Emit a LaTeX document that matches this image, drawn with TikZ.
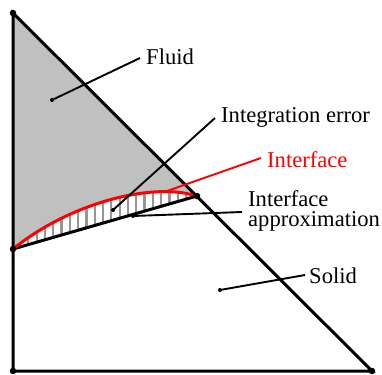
\documentclass[tikz,border=0pt]{standalone}
\usepackage{fontspec}
\setmainfont{Liberation Serif}
\begin{document}
\begin{tikzpicture}[x=1pt,y=-1pt,
  edge/.style={line width=3pt,line cap=round},
  leader/.style={line width=1.9pt},
  lbl/.style={inner sep=0pt,anchor=base west,font=\fontsize{22.6pt}{27pt}\selectfont},
  vdot/.style={circle,fill=black,inner sep=0pt,minimum size=6.5pt},
  ldot/.style={circle,fill=black,inner sep=0pt,minimum size=4pt}]
\useasboundingbox (0,0) rectangle (382,374);
% vertices
\coordinate (A) at (13,13);
\coordinate (B) at (13,371);
\coordinate (C) at (372,371);
\coordinate (P) at (13,249);
\coordinate (Q) at (197,196);
\coordinate (R) at (193,195);
% fluid region
\fill[fill={rgb,255:red,192;green,192;blue,192}] (A) -- (Q) -- (R) .. controls (150,183) and (70,203) .. (P) -- cycle;
% hatching of integration error
\begin{scope}
  \clip (P) .. controls (70,203) and (150,183) .. (R) -- (Q) -- cycle;
  \foreach \xx in {20,28.3,...,200} {
    \draw[line width=2.2pt,color={rgb,255:red,150;green,150;blue,150}] (\xx,180) -- (\xx,260);
  }
\end{scope}
% triangle
\draw[edge] (A) -- (B) -- (C) -- cycle;
% approximation
\draw[edge] (P) -- (Q);
% interface
\draw[line width=3pt,red] (P) .. controls (70,203) and (150,183) .. (R);
% dots
\node[vdot] (dA) at (A) {};
\node[vdot] (dB) at (B) {};
\node[vdot] (dC) at (C) {};
\node[vdot] (dP) at (P) {};
\node[vdot] (dQ) at (Q) {};
% labels
\node[lbl] (fluid) at (146,65) {Fluid};
\node[lbl] (interr) at (221,123) {Integration error};
\node[lbl,text=red] (iface) at (267,167) {Interface};
\node[lbl] (ia1) at (248,206) {Interface};
\node[lbl] (ia2) at (248,226) {approximation};
\node[lbl] (solid) at (309,283) {Solid};
% leader endpoints
\node[ldot] (fd) at (52,100) {};
\node[ldot] (ed) at (113,210) {};
\node[ldot] (ad) at (133,216) {};
\node[ldot] (sd) at (220,290) {};
\coordinate (fe) at (140,58);
\coordinate (ee) at (215,118);
\coordinate (ie) at (261,158);
\coordinate (is) at (167,191);
\coordinate (ae) at (242,212);
\coordinate (se) at (305,275);
\draw[leader] (fd.center) -- (fe);
\draw[leader] (ed.center) -- (ee);
\draw[leader,red] (is) -- (ie);
\draw[leader] (ad.center) -- (ae);
\draw[leader] (sd.center) -- (se);
\end{tikzpicture}
\end{document}
